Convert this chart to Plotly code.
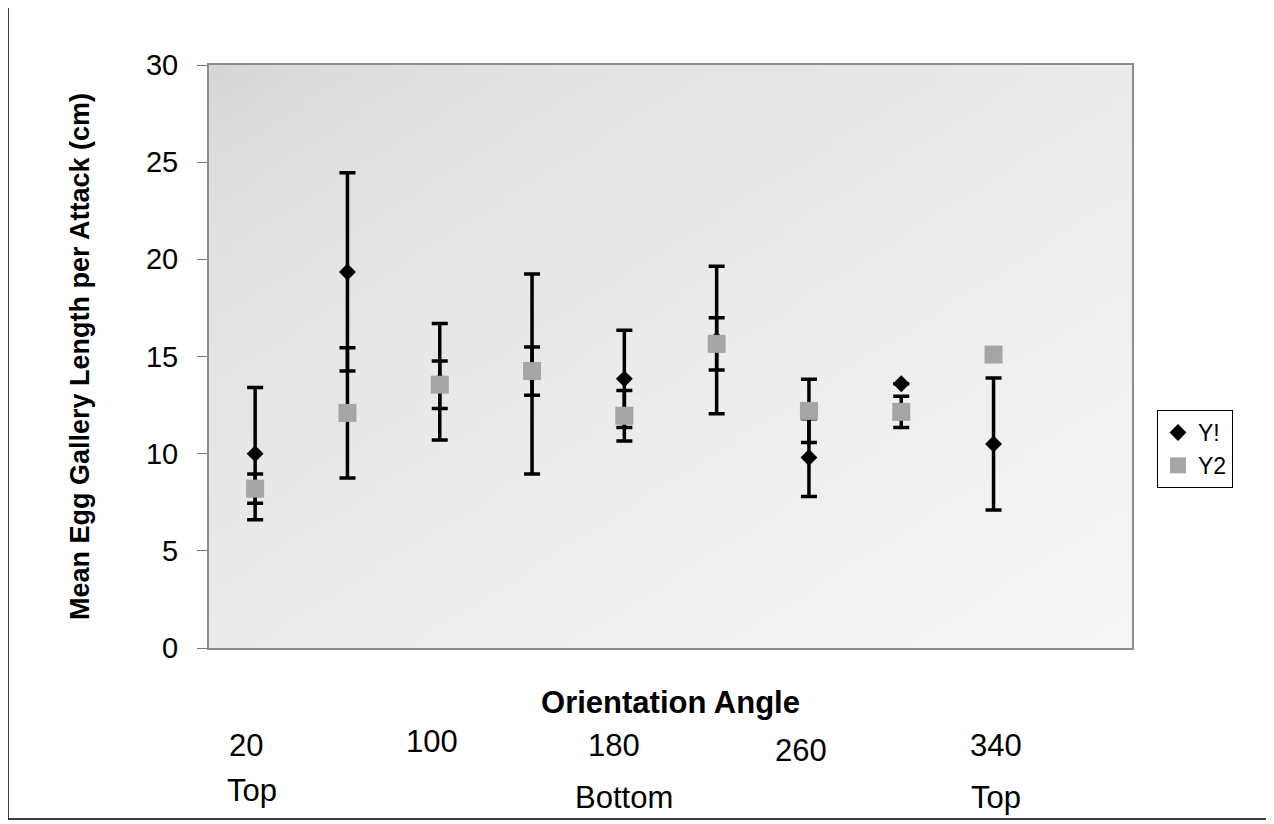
import base64
import struct
import zlib

import plotly.graph_objects as go

# ---- data ----
angles = [20, 60, 100, 140, 180, 220, 260, 300, 340]
y1 = [10.0, 19.35, 13.7, 14.1, 13.85, 15.85, 9.8, 13.6, 10.5]
y1_err = [3.4, 5.1, 3.0, 5.15, 2.5, 3.8, 2.0, 0.0, 3.4]
y2 = [8.2, 12.1, 13.55, 14.25, 11.95, 15.65, 12.2, 12.15, 15.1]
y2_err = [0.75, 3.35, 1.22, 1.24, 1.3, 1.35, 1.63, 0.8, 0.0]

tick_angles = [20, 100, 180, 260, 340]
tick_labels = ["20", "100", "180", "260", "340"]
pos_angles = [20, 180, 340]
pos_labels = ["Top", "Bottom", "Top"]

FONT = "Liberation Sans, Arial, sans-serif"
W, H = 1274, 824
OFF = 8  # page body margin
# target plot area in page pixels: x 209..1132, y 65..648
ML, MT = 209 - OFF, 65 - OFF
MR = W - 1132 + OFF
MB = H - 648 + OFF


def gradient_png(w=64, h=64, c0=214, c1=246):
    """Grey diagonal gradient (darker top-left) as a PNG data URI."""
    rows = b""
    for j in range(h):
        row = bytearray([0])
        for i in range(w):
            t = (i / (w - 1) * 0.5 + j / (h - 1) * 0.5) ** 0.6
            row.append(int(round(c0 + (c1 - c0) * t)))
        rows += bytes(row)

    def chunk(tag, data):
        c = struct.pack(">I", len(data)) + tag + data
        return c + struct.pack(">I", zlib.crc32(tag + data) & 0xFFFFFFFF)

    png = b"\x89PNG\r\n\x1a\n"
    png += chunk(b"IHDR", struct.pack(">IIBBBBB", w, h, 8, 0, 0, 0, 0))
    png += chunk(b"IDAT", zlib.compress(rows, 9))
    png += chunk(b"IEND", b"")
    return "data:image/png;base64," + base64.b64encode(png).decode()


fig = go.Figure()
fig.add_trace(go.Scatter(
    x=angles, y=y1, mode="markers", name="Y!",
    marker=dict(symbol="diamond", size=13, color="black"),
    error_y=dict(type="data", array=y1_err, visible=True, color="black",
                 thickness=3.5, width=8),
))
fig.add_trace(go.Scatter(
    x=angles, y=y2, mode="markers", name="Y2",
    marker=dict(symbol="square", size=18, color="#a5a5a5"),
    error_y=dict(type="data", array=y2_err, visible=True, color="black",
                 thickness=3.5, width=8),
))

pw = W - ML - MR
ph = H - MT - MB
bottom_page = 648


def py_to_paper(py):
    return (bottom_page - py) / ph


def px_to_paper(px):
    return (px - 209) / pw


annotations = []
tick_y = [745, 741, 745, 750, 745]
tick_dx = [-9, -8, -10, -8, 2]
for a, lab, py, dx in zip(tick_angles, tick_labels, tick_y, tick_dx):
    annotations.append(dict(x=a, xref="x", y=py_to_paper(py), yref="paper",
                            text=lab, showarrow=False, xshift=dx,
                            font=dict(family=FONT, size=31, color="black"),
                            xanchor="center", yanchor="middle"))
pos_y = [790, 797, 797]
pos_dx = [-3, 0, 2]
for a, lab, py, dx in zip(pos_angles, pos_labels, pos_y, pos_dx):
    annotations.append(dict(x=a, xref="x", y=py_to_paper(py), yref="paper",
                            text=lab, showarrow=False, xshift=dx,
                            font=dict(family=FONT, size=31, color="black"),
                            xanchor="center", yanchor="middle"))

shapes = [dict(type="rect", xref="paper", yref="paper",
               x0=px_to_paper(8), x1=px_to_paper(1267),
               y0=py_to_paper(819), y1=py_to_paper(6),
               line=dict(color="black", width=1.5), layer="below")]

images = [dict(source=gradient_png(), xref="paper", yref="paper",
               x=0, y=1, sizex=1, sizey=1, xanchor="left", yanchor="top",
               sizing="stretch", layer="below")]

fig.update_layout(
    width=W, height=H,
    margin=dict(l=ML, r=MR, t=MT, b=MB),
    paper_bgcolor="white",
    plot_bgcolor="rgba(0,0,0,0)",
    font=dict(family=FONT, color="black"),
    showlegend=True,
    legend=dict(x=px_to_paper(1157), y=py_to_paper(410),
                xanchor="left", yanchor="top",
                bgcolor="white", bordercolor="black", borderwidth=1,
                font=dict(family=FONT, size=23, color="black"),
                itemwidth=30, tracegroupgap=0),
    xaxis=dict(range=[0, 400], showticklabels=False, ticks="",
               showgrid=False, zeroline=False,
               showline=True, linecolor="#8c8c8c", linewidth=2, mirror=True,
               title=dict(text="<b>Orientation Angle</b>",
                          font=dict(family=FONT, size=31, color="black"),
                          standoff=42)),
    yaxis=dict(range=[0, 30], tickvals=[0, 5, 10, 15, 20, 25, 30],
               ticks="outside", ticklen=10, tickcolor="#777777", tickwidth=1,
               tickfont=dict(family=FONT, size=29, color="black"),
               ticklabelstandoff=13,
               showgrid=False, zeroline=False,
               showline=True, linecolor="#8c8c8c", linewidth=2, mirror=True,
               title=dict(text="<b>Mean Egg Gallery Length per Attack (cm)</b>",
                          font=dict(family=FONT, size=27, color="black"),
                          standoff=48)),
    annotations=annotations,
    shapes=shapes,
    images=images,
)

fig.write_html("out.html")
